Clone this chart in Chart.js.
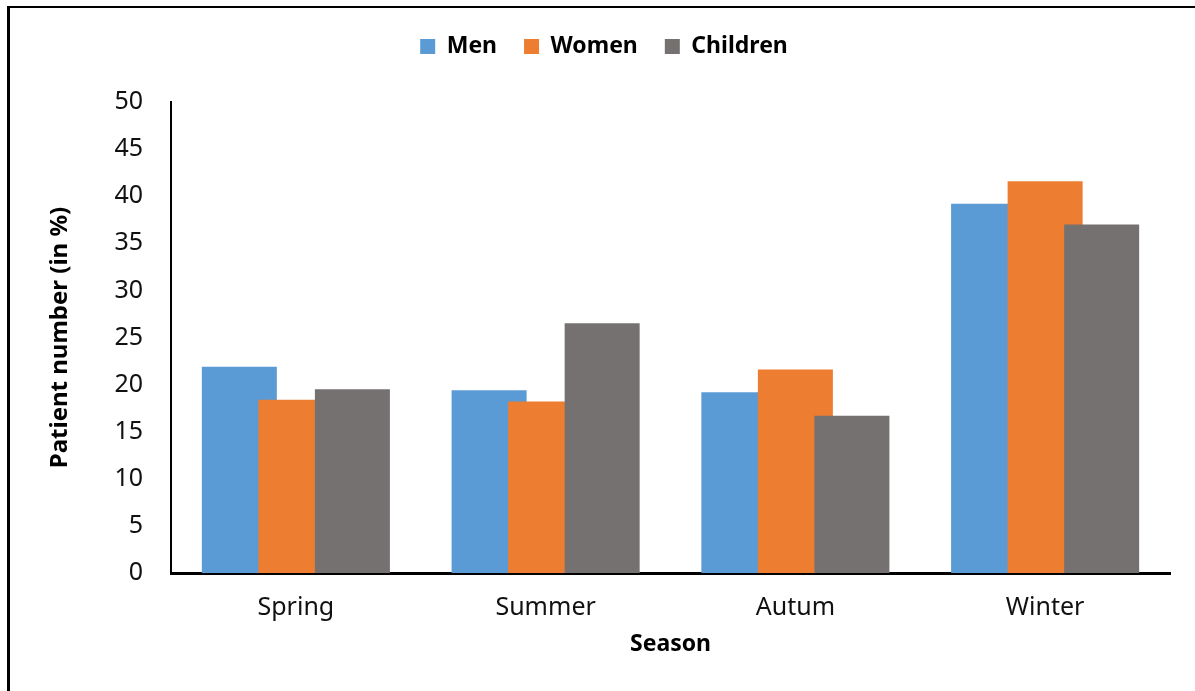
<!DOCTYPE html>
<html>
<head>
<meta charset="utf-8">
<script src="https://cdn.jsdelivr.net/npm/chart.js@4/dist/chart.umd.min.js"></script>
<style>
  body { margin: 0; background: #fff; }
  #frame { position: absolute; left: 7px; top: 6px; width: 1300px; height: 800px;
           border-left: 3px solid #000; border-top: 2px solid #000; }
  #wrap { position: absolute; left: 0; top: 0; width: 1195px; height: 691px; }
</style>
</head>
<body>
<div id="frame"></div>
<div id="wrap"><canvas id="seasonChart" width="1195" height="691"></canvas></div>
<script>
// data
var seasons = ['Spring', 'Summer', 'Autum', 'Winter'];
var men = [21.9, 19.4, 19.2, 39.2];
var women = [18.4, 18.2, 21.6, 41.6];
var children = [19.5, 26.5, 16.7, 37.0];
var yTicks = [0, 5, 10, 15, 20, 25, 30, 35, 40, 45, 50];

var FONT = "'Noto Sans', 'Open Sans', sans-serif";

// excel draws later series on top of earlier ones when bars overlap
var drawInOrder = {
    id: 'drawInOrder',
    beforeInit(chart) {
        var fit = chart.legend.fit;
        chart.legend.fit = function () {
            fit.bind(chart.legend)();
            this.height += 34;
        };
    },
    afterLayout(chart) {
        // legend sits a bit right of the plot centre in the original
        chart.legend.left += 38;
    },
    beforeDatasetsDraw(chart) {
        for (let i = 0; i < chart.data.datasets.length; i++) {
            var meta = chart.getDatasetMeta(i);
            if (!meta.hidden) meta.controller.draw();
        }
        return false;
    }
};

var ctx = document.getElementById('seasonChart').getContext('2d');
var chart = new Chart(ctx, {
    type: 'bar',
    data: {
        labels: seasons,
        datasets: [
            { label: 'Men', data: men, backgroundColor: '#5B9BD5' },
            { label: 'Women', data: women, backgroundColor: '#ED7D31' },
            { label: 'Children', data: children, backgroundColor: '#767171' }
        ]
    },
    options: {
        responsive: false,
        animation: false,
        categoryPercentage: 0.679,
        barPercentage: 1.327,
        layout: { padding: { top: 8, right: 25, bottom: 0, left: 0 } },
        plugins: {
            tooltip: { enabled: false },
            legend: {
                position: 'top',
                labels: {
                    boxWidth: 15,
                    boxHeight: 15,
                    padding: 27,
                    color: '#000',
                    font: { family: FONT, size: 23, weight: 'bold' }
                }
            }
        },
        scales: {
            x: {
                grid: { display: false, drawTicks: false },
                border: { color: '#000', width: 3 },
                ticks: { color: '#111', padding: 20, font: { family: FONT, size: 25 } },
                title: {
                    display: true, text: 'Season', color: '#000',
                    padding: { top: 0, bottom: 33 },
                    font: { family: FONT, size: 23, weight: 'bold' }
                },
                afterFit(scale) { scale.height = 118; }
            },
            y: {
                min: 0, max: 50,
                grid: { display: false, drawTicks: false },
                border: { color: '#000', width: 2 },
                afterBuildTicks(scale) { scale.ticks = yTicks.map(v => ({ value: v })); },
                ticks: { color: '#111', padding: 28, font: { family: FONT, size: 25 } },
                title: {
                    display: true, text: 'Patient number (in %)', color: '#000',
                    padding: { top: 46, bottom: 0 },
                    font: { family: FONT, size: 24, weight: 'bold' }
                },
                afterFit(scale) { scale.width = 171; }
            }
        }
    },
    plugins: [drawInOrder]
});
</script>
</body>
</html>
